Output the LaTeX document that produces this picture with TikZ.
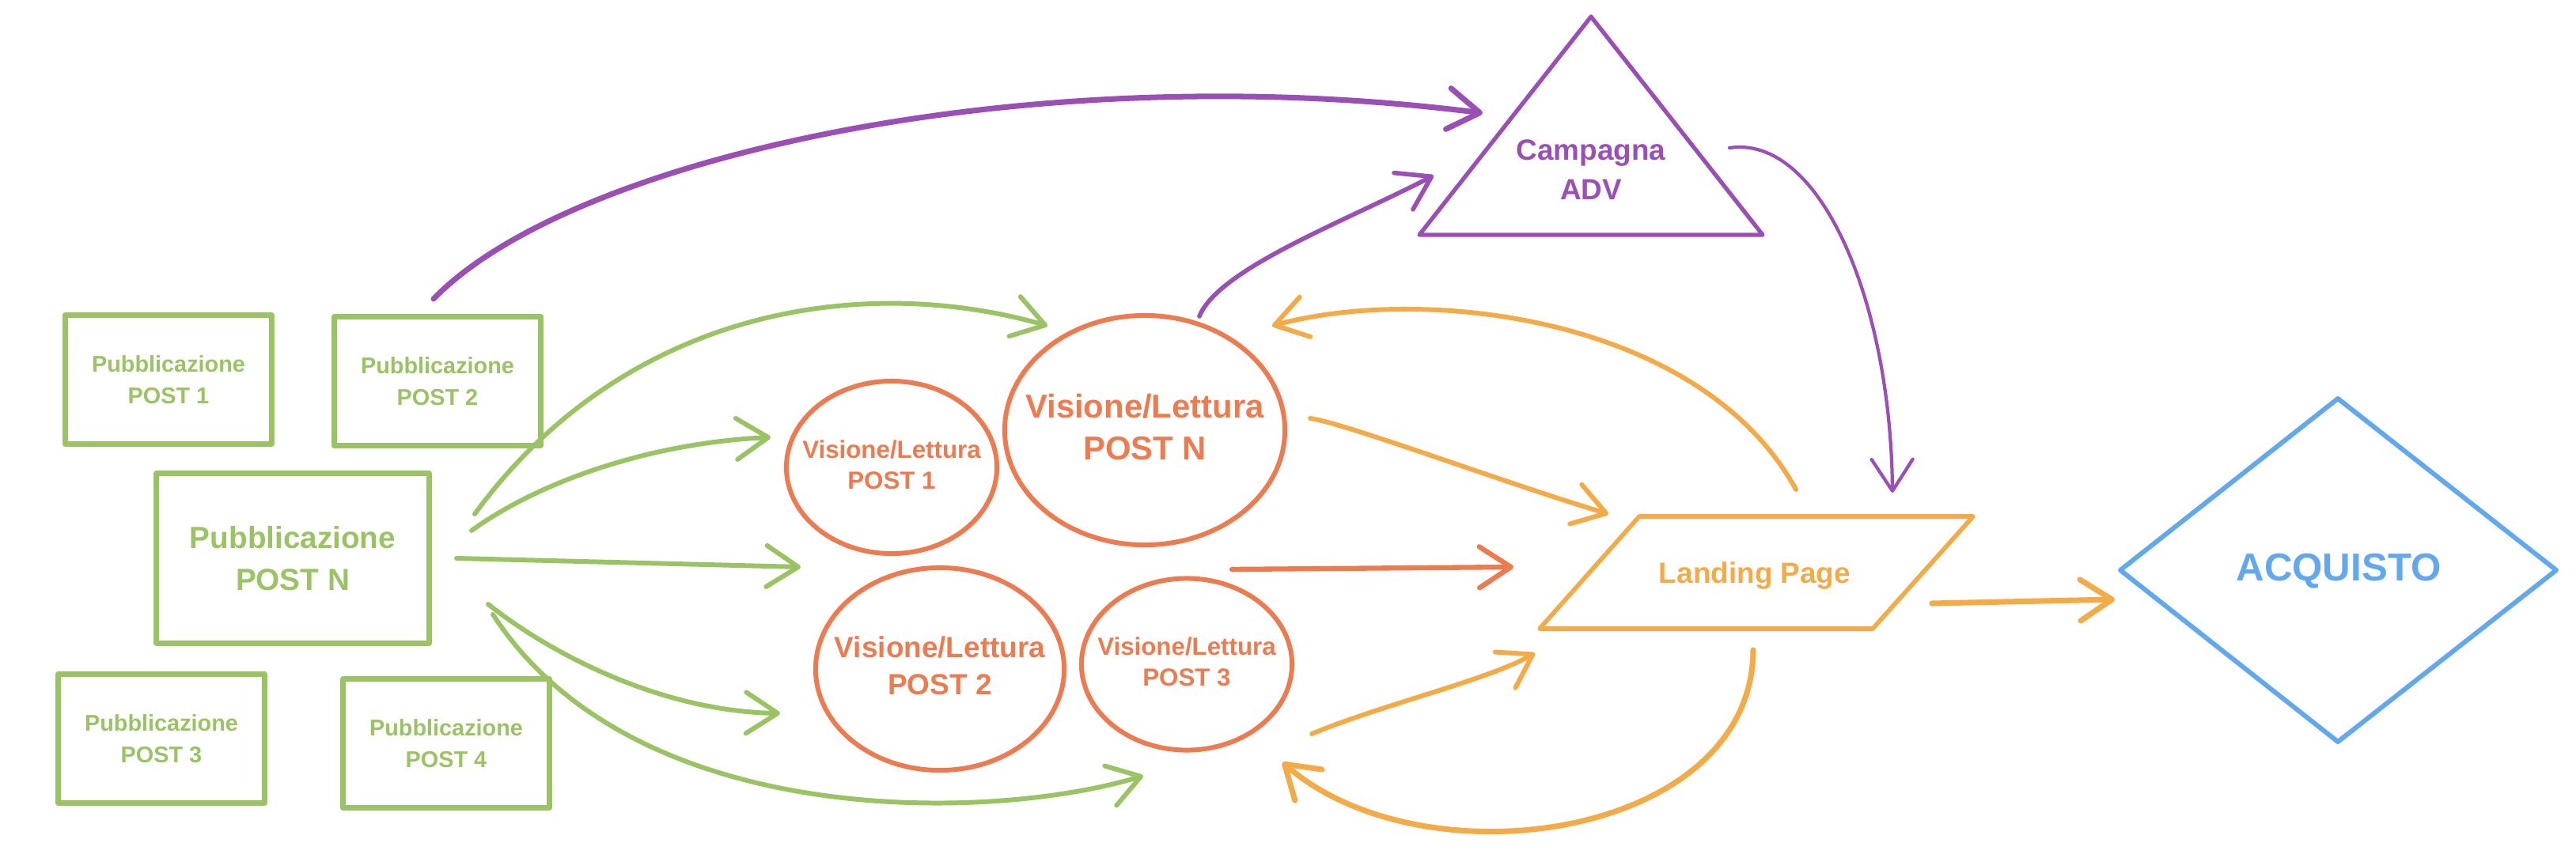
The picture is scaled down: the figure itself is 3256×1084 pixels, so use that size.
\documentclass[tikz,border=0pt]{standalone}
\usepackage{fontspec}
\setmainfont{Liberation Sans}
\usetikzlibrary{arrows.meta,shapes.geometric}
\definecolor{cgreen}{HTML}{9AC364}
\definecolor{cred}{HTML}{EE7A50}
\definecolor{corange}{HTML}{F4AB47}
\definecolor{cpurple}{HTML}{9B4FB6}
\definecolor{cblue}{HTML}{62A8EF}
\newcommand\celltext[2]{\raisebox{-0.12cm}{\makebox[0pt]{\fontsize{#1}{1.27\dimexpr#1pt\relax}\selectfont\begin{tabular}{@{}c@{}}#2\end{tabular}}}}
\begin{document}
\begin{tikzpicture}[x=0.01cm,y=-0.01cm,line cap=round,line join=round,
  gbox/.style={draw=cgreen,line width=2pt,text=cgreen,font=\bfseries\fontsize{8.2}{11.4}\selectfont,
    align=center,minimum width=2.61cm,minimum height=1.63cm,inner sep=0pt},
  vell/.style={ellipse,draw=cred,line width=1.7pt,text=cred,font=\bfseries,inner sep=0pt},
  tip/.style={-{Straight Barb[round,length=0.4cm,width=0.52cm]}},
  garr/.style={tip,draw=cgreen,line width=1.7pt},
  parr/.style={tip,draw=cpurple,line width=2pt},
  oarr/.style={tip,draw=corange,line width=1.7pt},
  rarr/.style={tip,draw=cred,line width=1.8pt}]
\useasboundingbox (0,0) rectangle (3256,1084);

% publication boxes
\node[gbox] (p1) at (213,480) {Pubblicazione\\POST 1};
\node[gbox] (p2) at (553,482) {Pubblicazione\\POST 2};
\node[gbox,minimum width=3.44cm,minimum height=2.14cm,font=\bfseries\fontsize{11}{15}\selectfont] (pN) at (370,706) {Pubblicazione\\POST N};
\node[gbox,minimum width=2.60cm] (p3) at (204,934) {Pubblicazione\\POST 3};
\node[gbox,minimum width=2.60cm] (p4) at (564,940) {Pubblicazione\\POST 4};

% view ellipses
\node[vell,minimum width=2.66cm,minimum height=2.18cm] (v1) at (1127,591) {\celltext{8.9}{Visione/Lettura\\POST 1}};
\node[vell,minimum width=3.54cm,minimum height=2.90cm] (vN) at (1447,544) {\celltext{11.9}{Visione/Lettura\\POST N}};
\node[vell,minimum width=3.14cm,minimum height=2.56cm] (v2) at (1188,846) {\celltext{10.5}{Visione/Lettura\\POST 2}};
\node[vell,minimum width=2.66cm,minimum height=2.17cm] (v3) at (1500,840) {\celltext{8.9}{Visione/Lettura\\POST 3}};

% campaign triangle
\draw[cpurple,line width=1.5pt] (1794,297) -- (2011,21) -- (2228,297) -- cycle;
\node[text=cpurple,align=center,font=\bfseries\fontsize{10.5}{14.2}\selectfont] (adv) at (2011,215) {Campagna\\ADV};

% landing page parallelogram
\draw[corange,line width=1.6pt] (1946,795) -- (2072,653) -- (2494,653) -- (2367,795) -- cycle;
\node[text=corange,font=\bfseries\fontsize{10.5}{14}\selectfont] (lp) at (2218,728) {Landing Page};

% purchase diamond
\draw[cblue,line width=1.7pt] (2680,721) -- (2955,504) -- (3231,721) -- (2955,938) -- cycle;
\node[text=cblue,font=\bfseries\fontsize{14}{17}\selectfont] (acq) at (2956,722) {ACQUISTO};

% green connectors
\draw[garr] ([shift={(230,-56)}]pN.center) .. controls (790,390) and (1090,345) .. ([shift={(-123,-132)}]vN.center);
\draw[garr] ([shift={(226,-35)}]pN.center) .. controls (680,610) and (820,560) .. ([shift={(-153,-38)}]v1.center);
\draw[garr] ([shift={(207,0)}]pN.center) -- ([shift={(-115,126)}]v1.center);
\draw[garr] ([shift={(247,58)}]pN.center) .. controls (700,830) and (840,900) .. ([shift={(-202,56)}]v2.center);
\draw[garr] ([shift={(253,71)}]pN.center) .. controls (800,1050) and (1250,1040) .. ([shift={(-55,141)}]v3.center);

% purple connectors
\draw[parr] ([shift={(-5,-104)}]p2.center) .. controls (720,200) and (1300,70) .. ([shift={(-137,-72)}]adv.center);
\draw[parr,line width=1.6pt] ([shift={(69,-144)}]vN.center) .. controls (1540,340) and (1700,280) .. ([shift={(-199,7)}]adv.center);
\draw[parr,line width=1.2pt] ([shift={(175,-28)}]adv.center) .. controls (2300,170) and (2390,380) .. ([shift={(174,-105)}]lp.center);

% orange connectors
\draw[oarr] ([shift={(52,-109)}]lp.center) .. controls (2150,400) and (1800,360) .. ([shift={(161,-132)}]vN.center);
\draw[oarr] ([shift={(209,-15)}]vN.center) .. controls (1700,535) and (1900,610) .. ([shift={(-185,-78)}]lp.center);
\draw[rarr] ([shift={(110,176)}]vN.center) -- ([shift={(-305,-11)}]lp.center);
\draw[oarr] ([shift={(158,88)}]v3.center) .. controls (1750,890) and (1880,860) .. ([shift={(-278,98)}]lp.center);
\draw[oarr,line width=2pt] ([shift={(-2,94)}]lp.center) .. controls (2215,1060) and (1800,1120) .. ([shift={(121,124)}]v3.center);
\draw[oarr,line width=2pt] ([shift={(224,35)}]lp.center) -- ([shift={(-283,36)}]acq.center);
\end{tikzpicture}
\end{document}
